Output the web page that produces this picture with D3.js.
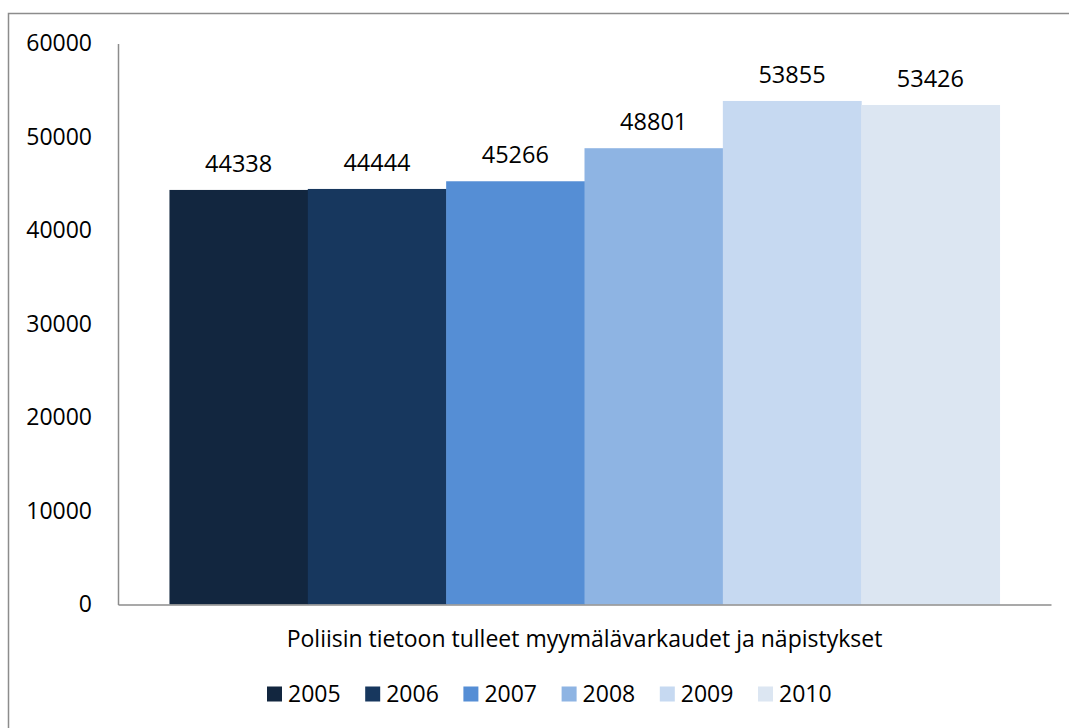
<!DOCTYPE html>
<html>
<head>
<meta charset="utf-8">
<script src="https://cdn.jsdelivr.net/npm/d3@7"></script>
<style>
  body { margin: 0; background: #fff; }
  svg { display: block; font-family: "Open Sans", sans-serif; }
</style>
</head>
<body>
<div id="chart"></div>
<script>
// data
const years = ['2005', '2006', '2007', '2008', '2009', '2010'];
const counts = [44338, 44444, 45266, 48801, 53855, 53426];
const colors = ['#12263f', '#17375e', '#558ed5', '#8eb4e3', '#c6d9f1', '#dce6f2'];
const category = 'Poliisin tietoon tulleet myymälävarkaudet ja näpistykset';
const yTicks = [0, 10000, 20000, 30000, 40000, 50000, 60000];

const W = 1069, H = 728;
const margin = { top: 43.5, right: 18, bottom: 123.5, left: 118 },
  width = W - margin.left - margin.right,
  height = H - margin.top - margin.bottom;

const root = d3.select('#chart')
  .append('svg')
  .attr('width', W)
  .attr('height', H);

// outer chart border (runs off the right/bottom edge)
root.append('rect')
  .attr('x', 8.5).attr('y', 13.5)
  .attr('width', W + 40).attr('height', H + 40)
  .attr('fill', 'none')
  .attr('stroke', '#8c8c8c')
  .attr('stroke-width', 1.5);

const svg = root.append('g')
  .attr('transform', 'translate(' + margin.left + ',' + margin.top + ')');

// scales
const x0 = d3.scaleBand()
  .domain([category])
  .range([0, width])
  .paddingInner(0)
  .paddingOuter(0.062);

const x1 = d3.scaleBand()
  .domain(years)
  .range([x0(category), x0(category) + x0.bandwidth()]);

const y = d3.scaleLinear()
  .domain([0, 60000])
  .range([height, 0]);

// bars
svg.selectAll('rect.bar')
  .data(years)
  .enter()
  .append('rect')
  .attr('class', 'bar')
  .attr('x', d => x1(d))
  .attr('y', (d, i) => y(counts[i]))
  .attr('width', x1.bandwidth() + 0.5)
  .attr('height', (d, i) => height - y(counts[i]))
  .attr('fill', (d, i) => colors[i]);

// value labels
svg.selectAll('text.val')
  .data(years)
  .enter()
  .append('text')
  .attr('class', 'val')
  .attr('x', d => x1(d) + x1.bandwidth() / 2)
  .attr('y', (d, i) => y(counts[i]) - 18)
  .attr('text-anchor', 'middle')
  .style('font-size', '23.5px')
  .style('fill', '#000')
  .text((d, i) => counts[i]);

// y axis
const yAxis = svg.append('g')
  .call(d3.axisLeft(y).tickValues(yTicks).tickSize(0).tickPadding(26).tickFormat(d3.format('d')));
yAxis.select('.domain').attr('stroke', '#8c8c8c').attr('stroke-width', 1.5);
yAxis.selectAll('text')
  .style('font-size', '23px')
  .style('font-family', '"Open Sans", sans-serif')
  .attr('fill', '#000');

// x axis
const xAxis = svg.append('g')
  .attr('transform', 'translate(0,' + height + ')')
  .call(d3.axisBottom(x0).tickSize(0).tickPadding(26));
xAxis.select('.domain').attr('stroke', '#8c8c8c').attr('stroke-width', 1.5);
xAxis.selectAll('text')
  .style('font-size', '23px')
  .style('font-family', '"Open Sans", sans-serif')
  .attr('fill', '#000');

// legend
const legend = root.append('g')
  .attr('transform', 'translate(267,694)');

const item = legend.selectAll('g')
  .data(years)
  .enter()
  .append('g')
  .attr('transform', (d, i) => 'translate(' + (i * 98.2) + ',0)');

item.append('rect')
  .attr('x', 0).attr('y', -7.5)
  .attr('width', 15).attr('height', 15)
  .attr('fill', (d, i) => colors[i]);

item.append('text')
  .attr('x', 21)
  .attr('dy', '0.36em')
  .style('font-size', '23px')
  .text(d => d);
</script>
</body>
</html>
